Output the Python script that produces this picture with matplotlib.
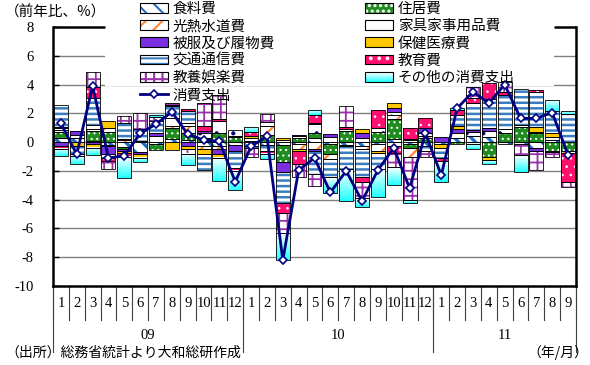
import numpy as np
import matplotlib
matplotlib.use("Agg")
import matplotlib.pyplot as plt
import matplotlib.transforms as mtransforms
from matplotlib.patches import Rectangle
from matplotlib.lines import Line2D
from matplotlib.colors import LinearSegmentedColormap
from matplotlib.legend_handler import HandlerBase

plt.rcParams['font.family'] = ['Noto Sans CJK JP', 'DejaVu Sans']
plt.rcParams['axes.unicode_minus'] = False
plt.rcParams['hatch.linewidth'] = 1.5

NUM = 'Liberation Serif'

months = [str(m) for m in range(1, 13)] * 2 + [str(m) for m in range(1, 10)]
years = ['09', '10', '11']
year_len = [12, 12, 9]

# contributions by category (% pt)
food = [0.3, 0.3, 0.1, -0.2, -0.35, -0.7, -0.1, 0.2, 0.15, -0.3, -0.3, -0.2,
        -0.3, -0.2, -0.2, -0.15, 0.3, -0.1, -0.2, -0.25, -0.1, 0.2, -0.1, -0.3,
        -0.15, 0.3, 0.4, 0.35, -0.1, -0.1, -0.4, 0.15, 0.0]
housing = [0.4, 0.0, 0.7, 0.7, -0.1, 0.0, -0.45, 0.8, 0.5, 0.3, 0.6, 0.35,
           0.1, 0.5, -1.2, 0.3, 0.35, -0.7, 0.8, 0.0, 0.7, 1.4, -0.3, 0.3,
           0.0, -0.15, -0.1, -1.0, 0.6, 1.05, 0.6, -0.6, -0.65]
utilities = [0.15, 0.0, 0.1, 0.3, 0.15, 0.0, 0.0, 0.1, 0.5, -0.2, -0.2, 0.1,
             0.2, 0.6, 0.15, -0.35, -0.5, -0.35, 0.1, -0.2, -0.55, 0.3, -0.6, 0.1,
             0.0, 0.0, 0.0, 0.0, 0.0, 0.0, 0.0, -0.1, -0.1]
furniture = [0.1, 0.2, 0.3, -0.1, 0.1, 0.1, 0.4, 0.6, 0.2, 0.3, 0.9, 0.4,
             0.0, 0.3, 0.0, 0.1, 0.6, 0.35, -0.1, 0.3, 0.3, 0.2, 0.15, 0.2,
             0.0, 0.3, 0.3, 0.4, 0.3, 0.15, 0.1, 0.2, 0.0]
clothing = [-0.3, 0.25, -0.1, -0.5, -0.2, -0.1, 0.25, 0.0, -0.3, 0.2, -0.3, -0.4,
            -0.1, 0.0, -0.7, 0.1, -0.1, 0.2, 0.0, 0.3, 0.0, 0.25, 0.1, 0.35,
            0.35, 0.3, 0.15, 0.2, 0.0, 0.0, -0.2, 0.0, 0.0]
medical = [0.1, -0.25, -0.3, 0.5, -0.1, -0.3, 0.0, -0.55, -0.2, -0.3, -0.3, 0.0,
           0.15, 0.0, 0.15, -0.1, 0.1, 0.0, 0.0, 0.3, -0.1, 0.35, 0.0, 0.0,
           -0.25, 0.2, 0.0, -0.25, 0.0, 0.0, 0.35, 0.3, 0.0]
transport = [1.5, -0.6, 1.9, -0.3, 1.05, 0.8, 0.8, 0.8, 0.8, -1.15, 0.0, -1.2,
             0.0, -0.4, -2.15, 0.0, -1.6, -1.3, -1.6, -2.0, -1.1, -0.3, 0.0, -0.3,
             -0.7, 0.8, 1.9, 2.05, 2.4, 2.5, 2.4, 1.5, 1.95]
education = [-0.15, -0.1, 0.7, -0.2, -0.25, 0.0, 0.0, 0.1, 0.15, 0.3, 0.1, -0.2,
             0.25, -0.2, -0.7, -0.9, 0.55, 0.0, 0.15, -0.35, 1.2, -0.45, 0.75, 0.7,
             -0.2, 0.3, 0.35, 1.1, 0.2, 0.0, 0.2, 0.0, -2.0]
culture = [0.0, 0.0, 1.1, -0.6, 0.5, 1.1, 0.3, 0.1, -0.3, 1.6, 1.65, 0.0,
           -0.6, 0.55, -1.35, -0.9, -0.85, 0.0, 1.45, -1.1, 0.0, -1.0, -3.0, -0.4,
           0.0, 0.0, 0.75, 0.0, 0.7, -0.8, -1.35, -0.3, -0.4]
other = [-0.5, -0.6, -0.5, 0.0, -1.5, -0.3, 0.15, 0.0, -0.8, 0.0, -1.6, -1.35,
         0.35, -0.35, -1.9, 0.0, 0.35, -1.1, -2.2, -0.6, -1.95, -1.25, -0.2, 0.0,
         -1.45, 0.15, -0.35, -0.25, 0.0, -1.15, 0.0, 0.8, 0.2]
# total consumption expenditure (y/y %)
total = [1.3, -0.85, 3.9, -1.1, -0.95, 0.6, 1.25, 2.1, 0.55, 0.15, 0.05, -2.75,
         -0.3, 0.4, -8.2, -1.95, -1.1, -3.5, -2.0, -4.1, -1.95, -0.4, -3.2, 0.6,
         -2.3, 2.35, 3.5, 2.7, 4.0, 1.65, 1.65, 2.05, -0.9]

labels = ['食料費', '住居費', '光熱水道費', '家具家事用品費', '被服及び履物費',
          '保健医療費', '交通通信費', '教育費', '教養娯楽費', 'その他の消費支出']
line_label = '消費支出'
series = [food, housing, utilities, furniture, clothing,
          medical, transport, education, culture, other]

# face, hatch colour, hatch, hatch lw  (None = gradient)
styles = [
    ('white', '#1f6fc8', '\\\\', 2.4),
    ('#1e8c1e', 'white', '...', 0.8),
    ('white', '#ff8833', '//', 1.6),
    ('white', '#000080', '.', 0.6),
    ('#7a30e0', '#7a30e0', None, 0),
    ('#ffc800', '#ffc800', None, 0),
    ('white', '#3a7dbf', '---', 1.8),
    ('#ff0f6f', 'white', '..', 0.6),
    ('white', '#9933aa', '++', 1.3),
    (None, None, None, 0),
]
cmap_other = LinearSegmentedColormap.from_list('oth', ['white', '#22ffff'])
navy = '#000080'


def set_hlw(p, lw):
    if lw and hasattr(p, 'set_hatch_linewidth'):
        p.set_hatch_linewidth(lw)


fig = plt.figure(figsize=(5.9, 3.65), dpi=100)
ax = fig.add_axes([53 / 590, 1 - 286 / 365, 523 / 590, 259 / 365])

x = np.arange(len(months))
w = 0.88
pos = np.zeros(len(x))
neg = np.zeros(len(x))
grad = np.linspace(0, 1, 64)[:, None]

for vals, (fc, hc, hatch, hlw) in zip(series, styles):
    vals = np.array(vals, float)
    base = np.where(vals >= 0, pos, neg)
    idx = np.nonzero(vals)[0]
    if fc is None:
        bars = ax.bar(x[idx], vals[idx], w, bottom=base[idx], facecolor='none',
                      edgecolor='black', linewidth=0.6, zorder=2.2)
        for p in bars:
            y0, h = p.get_y(), p.get_height()
            ax.imshow(grad, cmap=cmap_other, aspect='auto', origin='upper',
                      extent=[p.get_x(), p.get_x() + p.get_width(),
                              min(y0, y0 + h), max(y0, y0 + h)],
                      zorder=2, interpolation='bilinear')
    else:
        bars = ax.bar(x[idx], vals[idx], w, bottom=base[idx], facecolor=fc,
                      edgecolor=hc, hatch=hatch, linewidth=0, zorder=2)
        for p in bars:
            set_hlw(p, hlw)
        ax.bar(x[idx], vals[idx], w, bottom=base[idx], fill=False,
               edgecolor='black', linewidth=0.6, zorder=2.2)
    pos += np.where(vals > 0, vals, 0)
    neg += np.where(vals < 0, vals, 0)

ax.plot(x, total, color=navy, lw=2, marker='D', ms=4.5, mfc='white',
        mec=navy, mew=1.2, zorder=4)

# grid
for yv in range(-8, 8, 2):
    ax.axhline(yv, color='#808080', lw=1, zorder=1)

ax.set_xlim(-0.5, 32.5)
ax.set_ylim(-10, 8)
ax.set_xticks([])
ax.set_yticks(range(-10, 9, 2))
ax.tick_params(axis='y', direction='in', length=4, width=1, pad=14, labelsize=10.5)
for t in ax.get_yticklabels():
    t.set_fontfamily(NUM)
for s in ['left', 'right', 'bottom']:
    ax.spines[s].set_linewidth(1.8)
ax.spines['top'].set_visible(False)

# white legend box covering gridlines
cover = Rectangle((105 / 590, 1 - 85.5 / 365), 449 / 590, 85.5 / 365,
                  transform=fig.transFigure, facecolor='white', edgecolor='none',
                  zorder=1.5)
ax.add_artist(cover)
ax.plot([-0.5, 2.78], [8, 8], color='black', lw=1.8, clip_on=False, zorder=3,
        solid_capstyle='butt')
ax.plot([31.1, 32.5], [8, 8], color='black', lw=1.8, clip_on=False, zorder=3,
        solid_capstyle='butt')

# category axis
bt = mtransforms.blended_transform_factory(ax.transData, ax.transAxes)
for i, m in enumerate(months):
    ax.text(i, -0.066, m, transform=bt, ha='center', va='center',
            fontfamily=NUM, fontsize=10.5, clip_on=False)
for b in np.arange(-0.5, 33, 1):
    ax.plot([b, b], [0, -0.131], transform=bt, color='#404040', lw=0.8,
            clip_on=False)
edges = np.concatenate([[0], np.cumsum(year_len)]) - 0.5
for b in edges:
    ax.plot([b, b], [0, -0.255], transform=bt, color='#404040', lw=0.8,
            clip_on=False)
for k, yr in enumerate(years):
    ax.text((edges[k] + edges[k + 1]) / 2, -0.193, yr, transform=bt,
            ha='center', va='center', fontfamily=NUM, fontsize=10.5, clip_on=False)


# legend
class GradHandler(HandlerBase):
    def create_artists(self, legend, orig_handle, xdescent, ydescent, width,
                       height, fontsize, trans):
        arts = []
        n = 10
        for k in range(n):
            arts.append(Rectangle((-xdescent, -ydescent + height * k / n), width,
                                  height / n + 0.05, facecolor=cmap_other(1 - k / (n - 1)),
                                  edgecolor='none', transform=trans))
        arts.append(Rectangle((-xdescent, -ydescent), width, height, fill=False,
                              edgecolor='black', lw=0.8, transform=trans))
        return arts


handles = []
hmap = {}
for fc, hc, hatch, hlw in styles:
    if fc is None:
        h = Rectangle((0, 0), 1, 1)
        hmap[h] = GradHandler()
        handles.append(h)
    else:
        p = Rectangle((0, 0), 1, 1, facecolor=fc, edgecolor=hc, hatch=hatch, lw=0)
        set_hlw(p, hlw)
        o = Rectangle((0, 0), 1, 1, fill=False, edgecolor='black', lw=0.8)
        handles.append((p, o))
line_h = Line2D([], [], color=navy, lw=2, marker='D', ms=4.5, mfc='white',
                mec=navy, mew=1.2)

lkw = dict(loc='upper left', frameon=False, fontsize=10.5, handlelength=1.9,
           handleheight=0.65, handletextpad=0.35, labelspacing=0.22, borderpad=0,
           borderaxespad=0, handler_map=hmap)
fig.legend([handles[i] for i in (0, 2, 4, 6, 8)] + [line_h],
           [labels[i] for i in (0, 2, 4, 6, 8)] + [line_label],
           bbox_to_anchor=(140 / 590, 1 - 2 / 365), **lkw)
fig.legend([handles[i] for i in (1, 3, 5, 7, 9)],
           [labels[i] for i in (1, 3, 5, 7, 9)],
           bbox_to_anchor=(365 / 590, 1 - 2 / 365), **lkw)

fig.text(5 / 590, 1 - 12 / 365, '（前年比、%）', ha='left', va='center', fontsize=10.5)
fig.text(5 / 590, 1 - 353 / 365, '（出所）総務省統計より大和総研作成', ha='left',
         va='center', fontsize=10)
fig.text(588 / 590, 1 - 353 / 365, '（年/月）', ha='right', va='center', fontsize=10)

fig.savefig('out.png', dpi=100)
